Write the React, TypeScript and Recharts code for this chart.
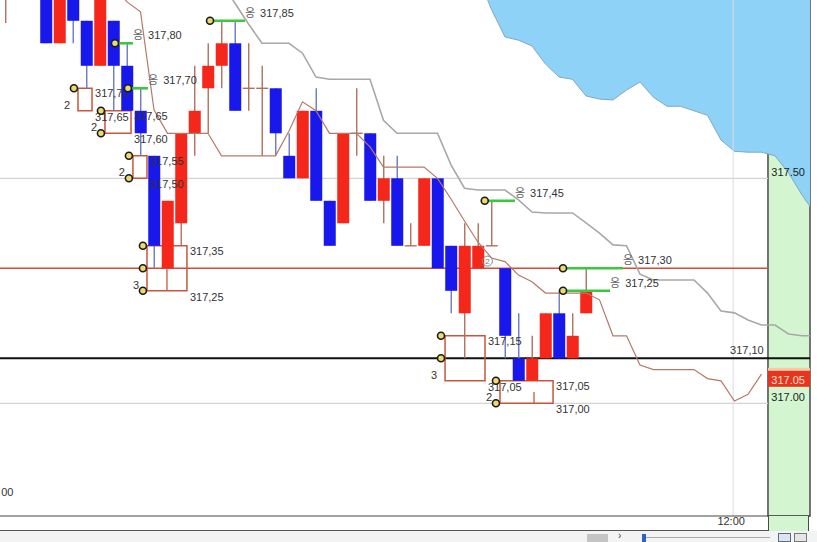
import React from "react";
import {
  ComposedChart,
  Bar,
  Line,
  Area,
  XAxis,
  YAxis,
  ReferenceLine,
  ReferenceArea,
  ReferenceDot,
} from "recharts";

// slot index -3 .. 57, candle slots -3 .. 40
const FIRST_SLOT = -3;
const LAST_SLOT = 57;

const candleOpen = [
  317.92, null, null,
  317.95, 317.8, 317.95, 317.85, 317.75, 317.85, 317.75, 317.65, 317.55, 317.3,
  317.4, 317.6, 317.7, 317.75, 317.8, 317.7, 317.7, 317.7, 317.55, 317.5,
  317.65, 317.45, 317.4, 317.6, 317.6, 317.45, 317.5, 317.35, 317.35, 317.5,
  317.35, 317.2, 317.3, 317.35, 317.3, 317.1, 317.05, 317.1, 317.2, 317.1, 317.2,
];
const candleHigh = [
  317.95, null, null,
  317.95, 317.95, 317.95, 317.85, 317.95, 317.85, 317.8, 317.7, 317.55, 317.45,
  317.6, 317.75, 317.8, 317.85, 317.85, 317.8, 317.75, 317.7, 317.6, 317.65,
  317.7, 317.45, 317.6, 317.7, 317.6, 317.55, 317.55, 317.4, 317.5, 317.5,
  317.35, 317.4, 317.4, 317.45, 317.3, 317.2, 317.15, 317.2, 317.25, 317.2, 317.3,
];
const candleLow = [
  317.845, null, null,
  317.8, 317.8, 317.8, 317.7, 317.75, 317.65, 317.65, 317.55, 317.3, 317.3,
  317.35, 317.55, 317.6, 317.7, 317.65, 317.65, 317.55, 317.55, 317.5, 317.5,
  317.45, 317.35, 317.4, 317.55, 317.45, 317.4, 317.35, 317.35, 317.35, 317.3,
  317.2, 317.1, 317.3, 317.35, 317.1, 317.05, 317.05, 317.1, 317.1, 317.1, 317.2,
];
const candleClose = [
  317.92, null, null,
  317.8, 317.95, 317.85, 317.75, 317.95, 317.75, 317.65, 317.6, 317.35, 317.45,
  317.6, 317.65, 317.75, 317.8, 317.65, 317.7, 317.7, 317.6, 317.5, 317.65,
  317.45, 317.35, 317.6, 317.6, 317.45, 317.5, 317.35, 317.35, 317.5, 317.3,
  317.25, 317.35, 317.35, 317.35, 317.15, 317.05, 317.1, 317.2, 317.1, 317.15, 317.25,
];

// grey step line (from slot 13)
const upperStart = 13;
const upperLine = [
  317.936, 317.889, 317.843, 317.8, 317.8, 317.8, 317.778, 317.725, 317.72, 317.72,
  317.72, 317.72, 317.629, 317.6, 317.6, 317.6, 317.6, 317.53, 317.478, 317.474,
  317.474, 317.474, 317.452, 317.425, 317.423, 317.423, 317.423, 317.401, 317.378, 317.352,
  317.35, 317.287, 317.274, 317.274, 317.274, 317.274, 317.245, 317.205, 317.201, 317.185,
  317.174, 317.174, 317.154, 317.15, 317.15,
];

// brown line (from slot 5)
const lowerStart = 5;
const lowerLine = [
  317.93, 317.892, 317.87, 317.652, 317.6, 317.6, 317.6, 317.6, 317.55, 317.55,
  317.55, 317.55, 317.55, 317.605, 317.67, 317.65, 317.6, 317.6, 317.6, 317.57,
  317.525, 317.525, 317.525, 317.525, 317.5, 317.454, 317.405, 317.358, 317.323, 317.315,
  317.285, 317.27, 317.245, 317.245, 317.245, 317.245, 317.23, 317.15, 317.15, 317.085,
  317.075, 317.075, 317.075, 317.075, 317.055, 317.05, 317.005, 317.02, 317.065,
];

// lower edge of the blue cloud (from slot 32)
const cloudStart = 32;
const cloudEdge = [
  317.95, 317.875, 317.814, 317.807, 317.794, 317.754, 317.725, 317.72, 317.683, 317.676,
  317.674, 317.696, 317.714, 317.68, 317.66, 317.66, 317.65, 317.64, 317.585, 317.56,
  317.558, 317.558, 317.55, 317.512, 317.463, 317.42,
];

const gridPrices = [317.5, 317.0];
const redLinePrice = 317.3;
const blackLinePrice = 317.1;
const lastPrice = 317.05;
const axisPrices = [317.5, 317.05, 317.0];
const timeSlots = [50.9];
const timeLabels = ["12:00"];

// boxes
const boxLeft = [2.37, 4.37, 6.44, 7.48, 29.56, 33.63];
const boxRight = [3.41, 6.3, 7.48, 10.44, 32.52, 37.56];
const boxTop = [317.7, 317.65, 317.55, 317.35, 317.15, 317.05];
const boxBottom = [317.65, 317.6, 317.5, 317.25, 317.05, 317.0];
const boxCount = [2, 2, 2, 3, 3, 2];
const boxDivider = [null, null, null, 8.96, null, 36.15];
const boxDots = [
  [317.7],
  [317.65, 317.6],
  [317.55, 317.5],
  [317.35, 317.3, 317.25],
  [317.15, 317.1],
  [317.05, 317.0],
];

// green target markers
const markerPrice = [317.85, 317.8, 317.7, 317.45, 317.3, 317.25];
const markerStart = [12.15, 5.11, 6.07, 32.5, 38.3, 38.3];
const markerEnd = [14.74, 6.44, 7.56, 34.74, 42.74, 41.78];

// frame
const XMIN = -3.407;
const XMAX = 56.593;
const YMIN = 316.7496;
const YMAX = 317.8962;
const PANEL_X = 53.48;

const RED = "#f5261a";
const BLUE = "#1818ec";
const FONT = "'Liberation Sans', Arial, sans-serif";

const rows = [];
for (let s = FIRST_SLOT; s <= LAST_SLOT; s++) {
  const k = s - FIRST_SLOT;
  rows.push({
    i: s,
    o: candleOpen[k] ?? null,
    h: candleHigh[k] ?? null,
    l: candleLow[k] ?? null,
    c: candleClose[k] ?? null,
    upper: upperLine[s - upperStart] ?? null,
    lower: lowerLine[s - lowerStart] ?? null,
    cloud: cloudEdge[s - cloudStart] ?? null,
  });
}

const fmt = (v: number) => v.toFixed(2).replace(".", ",");

const Candle = (props: any) => {
  const { x, y, width, height, payload } = props;
  if (!payload || payload.o == null) return null;
  const { o, h, l, c } = payload;
  const top = Math.min(y, y + height);
  const span = Math.abs(height);
  const ppu = span / (h - l);
  const yOf = (v: number) => top + (h - v) * ppu;
  const mid = x + width / 2;
  const flat = o === c;
  const up = c > o;
  const wick = flat || up ? "#b0705e" : "#6b78c4";
  const bTop = yOf(Math.max(o, c));
  const bBot = yOf(Math.min(o, c));
  return (
    <g>
      <line x1={mid} x2={mid} y1={top} y2={top + span} stroke={wick} strokeWidth={1.4} />
      {flat ? (
        <line x1={x} x2={x + width} y1={bTop} y2={bTop} stroke={wick} strokeWidth={1.4} />
      ) : (
        <rect x={x} y={bTop} width={width} height={Math.max(bBot - bTop, 1)} fill={up ? RED : BLUE} />
      )}
    </g>
  );
};

const txt = (text: any, dx: number, dy: number, anchor = "start", color = "#333") => (p: any) => (
  <text x={p.cx + dx} y={p.cy + dy} textAnchor={anchor} fontSize={11} fontFamily={FONT} fill={color}>
    {text}
  </text>
);

const markerText = (price: number) => (p: any) => (
  <text x={p.cx} y={p.cy - 4} fontSize={11} fontFamily={FONT} fill="#333">
    <tspan fontFamily="'Noto Sans CJK KR'" fill="#666" fontSize={11}>옹</tspan>
    <tspan dx={5}>{fmt(price)}</tspan>
  </text>
);

const yellowDot = (p: any) => (
  <circle cx={p.cx} cy={p.cy} r={3.5} fill="#eadb6c" stroke="#1a1a1a" strokeWidth={1.6} />
);

const PriceTick = (props: any) => {
  const { x, y, payload } = props;
  if (payload.value === lastPrice) {
    return (
      <g>
        <rect x={x - 37} y={y - 13} width={42} height={3} fill="#f7c9a4" />
        <rect x={x - 37} y={y - 10} width={42} height={16} fill="#e8341c" />
        <text x={x} y={y + 3} textAnchor="end" fontSize={11} fontFamily={FONT} fill="#ffe2d6">
          {payload.value.toFixed(2)}
        </text>
      </g>
    );
  }
  return (
    <text x={x} y={y - 2} textAnchor="end" fontSize={11} fontFamily={FONT} fill="#222">
      {payload.value.toFixed(2)}
    </text>
  );
};

const TimeTick = (props: any) => {
  const { x, y, payload } = props;
  const idx = timeSlots.indexOf(payload.value);
  return (
    <text x={x - 2} y={y + 9} textAnchor="middle" fontSize={11} fontFamily={FONT} fill="#333">
      {timeLabels[idx < 0 ? 0 : idx]}
    </text>
  );
};

export default function App() {
  return (
    <div
      style={{
        position: "fixed",
        left: 0,
        top: 0,
        width: 817,
        height: 542,
        overflow: "hidden",
        background: "#fff",
        fontFamily: FONT,
      }}
    >
      <ComposedChart width={817} height={542} data={rows} margin={{ top: 0, right: 7, bottom: 0, left: 0 }}>
        <XAxis
          dataKey="i"
          type="number"
          domain={[XMIN, XMAX]}
          allowDataOverflow
          ticks={timeSlots}
          interval={0}
          tick={<TimeTick />}
          tickLine={false}
          tickSize={0}
          tickMargin={0}
          axisLine={{ stroke: "#444" }}
          height={26}
        />
        <YAxis
          orientation="right"
          mirror
          type="number"
          domain={[YMIN, YMAX]}
          allowDataOverflow
          ticks={axisPrices}
          interval={0}
          tick={<PriceTick />}
          tickLine={false}
          tickSize={0}
          tickMargin={5}
          axisLine={false}
        />

        <ReferenceArea
          x1={PANEL_X}
          x2={XMAX}
          y1={YMIN}
          y2={YMAX}
          fill="#d3f6d1"
          fillOpacity={1}
          stroke="#4a4a4a"
          strokeWidth={1.5}
          zIndex={1}
        />

        <Area
          dataKey={(d: any) => (d.cloud == null ? null : [d.cloud, 318.2])}
          type="linear"
          fill="#8ed2f7"
          fillOpacity={1}
          stroke="#84a8bc"
          strokeWidth={1}
          isAnimationActive={false}
          zIndex={2}
        />

        {gridPrices.map((p) => (
          <ReferenceLine
            key={"g" + p}
            segment={[{ x: XMIN, y: p }, { x: PANEL_X, y: p }]}
            stroke="#d4d4d4"
            strokeWidth={1.2}
            zIndex={3}
          />
        ))}
        {timeSlots.map((t) => (
          <ReferenceLine key={"t" + t} x={t} stroke="#dcdcdc" strokeWidth={1} zIndex={3} />
        ))}

        <ReferenceLine
          segment={[{ x: XMIN, y: redLinePrice }, { x: PANEL_X, y: redLinePrice }]}
          stroke="#d44b3a"
          strokeWidth={1.6}
          zIndex={4}
        />
        <ReferenceLine y={blackLinePrice} stroke="#111" strokeWidth={2} zIndex={4} />

        {boxLeft.map((bl, k) => (
          <ReferenceArea
            key={"b" + k}
            x1={bl}
            x2={boxRight[k]}
            y1={boxBottom[k]}
            y2={boxTop[k]}
            fill="none"
            fillOpacity={0}
            stroke="#c8563f"
            strokeWidth={1.5}
            zIndex={5}
          />
        ))}
        {boxDivider.map((d, k) =>
          d == null ? null : (
            <ReferenceLine
              key={"bd" + k}
              segment={[{ x: d, y: boxBottom[k] }, { x: d, y: (boxTop[k] + boxBottom[k]) / 2 }]}
              stroke="#c8563f"
              strokeWidth={1.3}
              zIndex={5}
            />
          )
        )}

        <Bar
          dataKey={(d: any) => (d.o == null ? null : [d.l, d.h])}
          barSize={12}
          shape={<Candle />}
          isAnimationActive={false}
          zIndex={6}
        />

        <Line
          dataKey="upper"
          type="linear"
          stroke="#a8a8a8"
          strokeWidth={1.6}
          dot={false}
          isAnimationActive={false}
          zIndex={7}
        />
        <Line
          dataKey="lower"
          type="linear"
          stroke="#b37a6b"
          strokeWidth={1.2}
          dot={false}
          isAnimationActive={false}
          zIndex={7}
        />

        {boxLeft.map((bl, k) => (
          <ReferenceDot key={"bt" + k} x={boxRight[k]} y={boxTop[k]} r={0} shape={txt(fmt(boxTop[k]), 3, 9)} zIndex={8} />
        ))}
        {boxLeft.map((bl, k) => (
          <ReferenceDot key={"bb" + k} x={boxRight[k]} y={boxBottom[k]} r={0} shape={txt(fmt(boxBottom[k]), 3, 10)} zIndex={8} />
        ))}
        {boxLeft.map((bl, k) => (
          <ReferenceDot key={"bn" + k} x={bl} y={boxBottom[k]} r={0} shape={txt(boxCount[k], -11, -2, "middle")} zIndex={8} />
        ))}
        {boxDots.map((ds, k) =>
          ds.map((p) => (
            <ReferenceDot key={"bdot" + k + "_" + p} x={boxLeft[k] - 0.3} y={p} r={3.5} shape={yellowDot} zIndex={9} />
          ))
        )}

        {markerPrice.map((p, k) => (
          <ReferenceLine
            key={"m" + k}
            segment={[{ x: markerStart[k], y: p }, { x: markerEnd[k], y: p }]}
            stroke="#3cc83c"
            strokeWidth={2.6}
            zIndex={8}
          />
        ))}
        {markerPrice.map((p, k) => (
          <ReferenceDot key={"md" + k} x={markerStart[k]} y={p} r={3.5} shape={yellowDot} zIndex={9} />
        ))}
        {markerPrice.map((p, k) => (
          <ReferenceDot key={"ml" + k} x={markerEnd[k]} y={p} r={0} shape={markerText(p)} zIndex={9} />
        ))}

        <ReferenceDot
          x={32.7}
          y={317.316}
          r={5}
          zIndex={9}
          shape={(p: any) => (
            <g>
              <circle cx={p.cx} cy={p.cy} r={5} fill="none" stroke="#888" strokeWidth={1} />
              <text x={p.cx} y={p.cy + 3} textAnchor="middle" fontSize={8} fontFamily={FONT} fill="#777">
                2
              </text>
            </g>
          )}
        />
        <ReferenceDot x={50.67} y={blackLinePrice} r={0} shape={txt(fmt(blackLinePrice), 0, -4)} zIndex={9} />
        <ReferenceDot x={XMIN + 0.01} y={316.803} r={0} shape={txt("00", 1, 4)} zIndex={9} />
      </ComposedChart>

      {/* price-axis column below the plot and the scroll bar */}
      <div
        style={{
          position: "absolute",
          left: 768,
          top: 516,
          width: 41,
          height: 15,
          background: "#d3f6d1",
          borderLeft: "1.5px solid #4a4a4a",
          borderRight: "1.5px solid #4a4a4a",
          boxSizing: "border-box",
        }}
      />
      <div style={{ position: "absolute", left: 0, top: 530, width: 768, height: 1.5, background: "#555" }} />
      <div style={{ position: "absolute", left: 0, top: 531, width: 817, height: 11, background: "#f3f3f3" }} />
      <div style={{ position: "absolute", left: 587, top: 534, width: 21, height: 8, background: "#c4c4c4" }} />
      <div style={{ position: "absolute", left: 618, top: 530, fontSize: 10, color: "#444", fontFamily: FONT }}>›</div>
      <div style={{ position: "absolute", left: 642, top: 534, width: 4, height: 8, background: "#2a64c8" }} />
      <div style={{ position: "absolute", left: 646, top: 537, width: 124, height: 1, background: "#aaa" }} />
      <div
        style={{
          position: "absolute",
          left: 778,
          top: 533,
          width: 13,
          height: 9,
          background: "#dde4f0",
          border: "1px solid #5a6a8a",
          boxSizing: "border-box",
        }}
      />
      <div
        style={{
          position: "absolute",
          left: 794,
          top: 533,
          width: 13,
          height: 9,
          background: "#e6e6e6",
          border: "1px solid #777",
          boxSizing: "border-box",
        }}
      />
    </div>
  );
}
